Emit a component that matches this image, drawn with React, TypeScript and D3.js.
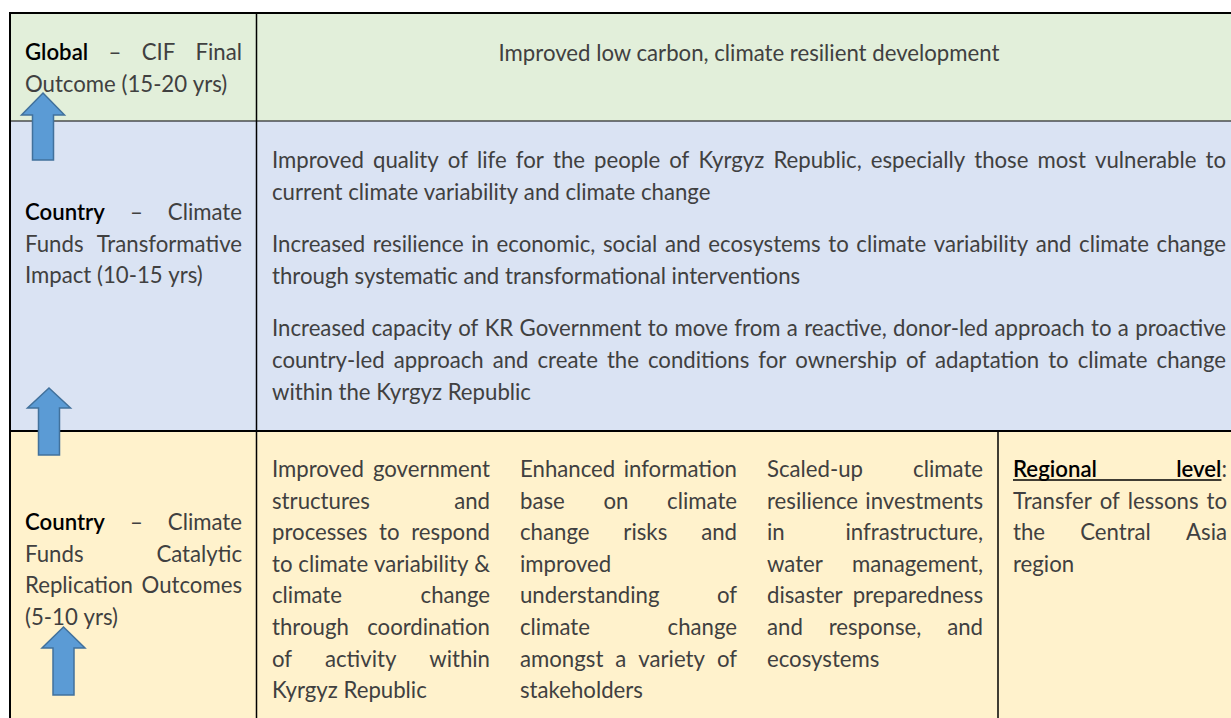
import { useEffect, useState } from 'react'
import * as d3 from 'd3'

const W = 1231
const H = 718
const FAMILY = 'Lato, "Open Sans", sans-serif'
const SIZE = 22.2
const LINE = 31.6
const BODY_WEIGHT = 400
const BOLD_WEIGHT = 600
const BODY_COLOR = '#404040'

// row bands: fill and edges
const ROW_FILLS = ['#E2EFDA', '#DAE3F3', '#FFF2CC']
const ROW_EDGES = [13, 121, 431, 718]

// *bold*  _bold underlined_
const LEVEL_LABELS = [
  ['*Global* – CIF Final', 'Outcome (15-20 yrs)'],
  ['*Country* – Climate', 'Funds Transformative', 'Impact (10-15 yrs)'],
  ['*Country* – Climate', 'Funds Catalytic', 'Replication Outcomes', '(5-10 yrs)'],
]
const LABEL_BASELINES = [60, 220, 530]

const FINAL_OUTCOME = 'Improved low carbon, climate resilient development'

const IMPACTS = [
  [
    'Improved quality of life for the people of Kyrgyz Republic, especially those most vulnerable to',
    'current climate variability and climate change',
  ],
  [
    'Increased resilience in economic, social and ecosystems to climate variability and climate change',
    'through systematic and transformational interventions',
  ],
  [
    'Increased capacity of KR Government to move from a reactive, donor-led approach to a proactive',
    'country-led approach and create the conditions for ownership of adaptation to climate change',
    'within the Kyrgyz Republic',
  ],
]

const OUTCOMES = [
  [
    'Improved government',
    'structures and',
    'processes to respond',
    'to climate variability &',
    'climate change',
    'through coordination',
    'of activity within',
    'Kyrgyz Republic',
  ],
  [
    'Enhanced information',
    'base on climate',
    'change risks and',
    'improved',
    'understanding of',
    'climate change',
    'amongst a variety of',
    'stakeholders',
  ],
  [
    'Scaled-up climate',
    'resilience investments',
    'in infrastructure,',
    'water management,',
    'disaster preparedness',
    'and response, and',
    'ecosystems',
  ],
  ['_Regional_ _level_:', 'Transfer of lessons to', 'the Central Asia', 'region'],
]
const OUTCOME_COLS: [number, number][] = [
  [272, 490],
  [520, 737],
  [767, 983],
  [1013, 1227],
]

// upward arrows in the level column: [centre x, tip, head base, bottom]
const ARROWS = [
  [43, 93, 115, 160],
  [49, 388, 408, 455],
  [63.5, 627, 648, 695],
]

let ctx: CanvasRenderingContext2D | null = null
function measure(text: string, bold: boolean) {
  if (!ctx) ctx = document.createElement('canvas').getContext('2d')
  ctx!.font = `${bold ? BOLD_WEIGHT : BODY_WEIGHT} ${SIZE}px ${FAMILY}`
  return ctx!.measureText(text).width
}

type Seg = { text: string; bold: boolean; under: boolean }

function parseWord(word: string): Seg[] {
  return word
    .split(/(\*[^*]+\*|_[^_]+_)/)
    .filter(Boolean)
    .map(s => {
      if (s.startsWith('*')) return { text: s.slice(1, -1), bold: true, under: false }
      if (s.startsWith('_')) return { text: s.slice(1, -1), bold: true, under: true }
      return { text: s, bold: false, under: false }
    })
}

function Line({ text, x0, x1, y, justify }: { text: string; x0: number; x1: number; y: number; justify: boolean }) {
  const words = text.split(' ').map(parseWord)
  const widths = words.map(w => d3.sum(w, s => measure(s.text, s.bold)))
  const space = measure(' ', false)
  const gap = justify && words.length > 1 ? (x1 - x0 - d3.sum(widths)) / (words.length - 1) : space
  const out: JSX.Element[] = []
  let x = x0
  let uMin = Infinity
  let uMax = -Infinity
  words.forEach((w, i) => {
    let sx = x
    w.forEach((s, j) => {
      const sw = measure(s.text, s.bold)
      if (s.under) {
        uMin = Math.min(uMin, sx)
        uMax = Math.max(uMax, sx + sw)
      }
      out.push(
        <text
          key={`${i}-${j}`}
          x={sx}
          y={y}
          fontWeight={s.bold ? BOLD_WEIGHT : BODY_WEIGHT}
          fill={s.bold ? '#000' : BODY_COLOR}
        >
          {s.text}
        </text>
      )
      sx += sw
    })
    x += widths[i] + gap
  })
  return (
    <g>
      {out}
      {uMax > uMin && <line x1={uMin} x2={uMax} y1={y + 3} y2={y + 3} stroke="#000" strokeWidth={1.4} />}
    </g>
  )
}

function Para({ lines, x0, x1, y0 }: { lines: string[]; x0: number; x1: number; y0: number }) {
  return (
    <g>
      {lines.map((t, i) => (
        <Line key={i} text={t} x0={x0} x1={x1} y={y0 + i * LINE} justify={i < lines.length - 1} />
      ))}
    </g>
  )
}

export default function App() {
  const [, setTick] = useState(0)
  useEffect(() => {
    Promise.all([
      document.fonts.load(`${BODY_WEIGHT} ${SIZE}px Lato`),
      document.fonts.load(`${BOLD_WEIGHT} ${SIZE}px Lato`),
    ])
      .then(() => document.fonts.ready)
      .then(() => setTick(t => t + 1))
  }, [])

  const impactY: number[] = []
  let yy = 168
  IMPACTS.forEach(p => {
    impactY.push(yy)
    yy += p.length * LINE + 21
  })

  return (
    <svg
      width={W}
      height={H}
      style={{ position: 'absolute', left: 0, top: 0, background: '#fff' }}
      fontFamily={FAMILY}
      fontSize={SIZE}
    >
      {ROW_FILLS.map((c, i) => (
        <rect key={i} x={10} y={ROW_EDGES[i]} width={W - 10} height={ROW_EDGES[i + 1] - ROW_EDGES[i]} fill={c} />
      ))}

      {/* grid lines */}
      <line x1={9} x2={W} y1={13} y2={13} stroke="#000" strokeWidth={2} />
      <line x1={10} x2={10} y1={12} y2={H} stroke="#000" strokeWidth={2} />
      <line x1={256.5} x2={256.5} y1={13} y2={H} stroke="#000" strokeWidth={1.5} />
      <line x1={10} x2={W} y1={121} y2={121} stroke="#000" strokeWidth={1.2} />
      <line x1={10} x2={W} y1={431} y2={431} stroke="#000" strokeWidth={2} />
      <line x1={998} x2={998} y1={431} y2={H} stroke="#000" strokeWidth={1.5} />

      {/* level labels */}
      {LEVEL_LABELS.map((lines, i) => (
        <Para key={i} lines={lines} x0={25} x1={242} y0={LABEL_BASELINES[i]} />
      ))}

      {/* final outcome */}
      <text x={749} y={61} textAnchor="middle" fontWeight={BODY_WEIGHT} fill={BODY_COLOR}>
        {FINAL_OUTCOME}
      </text>

      {/* transformative impact */}
      {IMPACTS.map((p, i) => (
        <Para key={i} lines={p} x0={272} x1={1226} y0={impactY[i]} />
      ))}

      {/* catalytic replication outcomes */}
      {OUTCOMES.map((p, i) => (
        <Para key={i} lines={p} x0={OUTCOME_COLS[i][0]} x1={OUTCOME_COLS[i][1]} y0={477} />
      ))}

      {/* arrows */}
      {ARROWS.map(([cx, tip, hb, bot], i) => {
        const hw = 21.5
        const sw = 10.5
        const pts = [
          [cx, tip],
          [cx + hw, hb],
          [cx + sw, hb],
          [cx + sw, bot],
          [cx - sw, bot],
          [cx - sw, hb],
          [cx - hw, hb],
        ]
        return (
          <polygon
            key={i}
            points={pts.map(p => p.join(',')).join(' ')}
            fill="#5B9BD5"
            stroke="#41719C"
            strokeWidth={1.5}
          />
        )
      })}
    </svg>
  )
}
